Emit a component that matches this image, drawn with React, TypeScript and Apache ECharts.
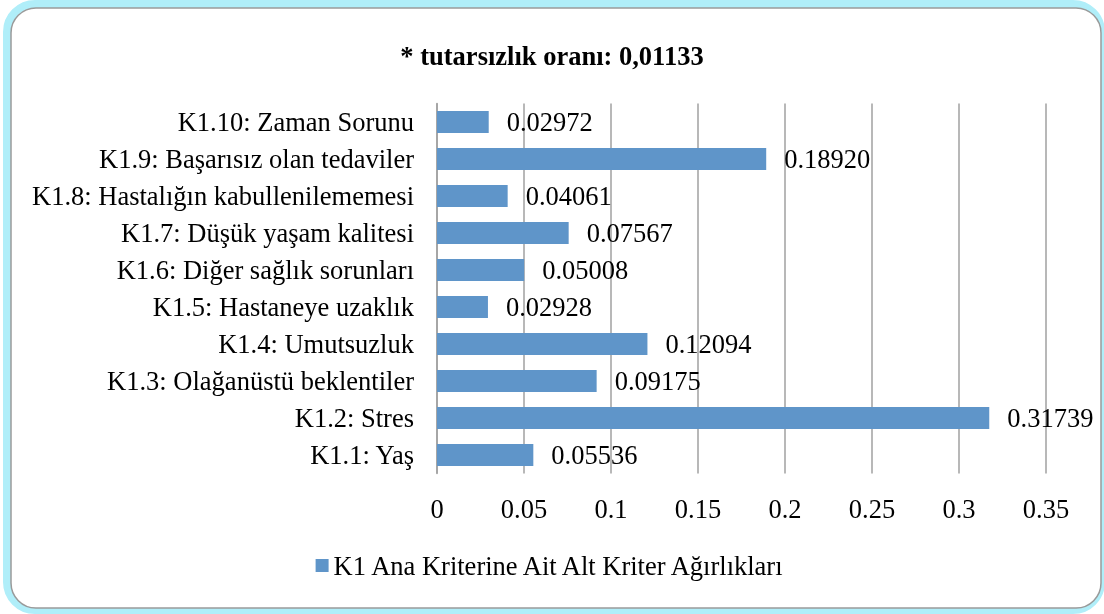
import React, { useEffect, useRef } from "react";
import * as echarts from "echarts";

const categories = [
  "K1.1: Yaş",
  "K1.2: Stres",
  "K1.3: Olağanüstü beklentiler",
  "K1.4: Umutsuzluk",
  "K1.5: Hastaneye uzaklık",
  "K1.6: Diğer sağlık sorunları",
  "K1.7: Düşük yaşam kalitesi",
  "K1.8: Hastalığın kabullenilememesi",
  "K1.9: Başarısız olan tedaviler",
  "K1.10: Zaman Sorunu",
];
const values = [0.05536, 0.31739, 0.09175, 0.12094, 0.02928, 0.05008, 0.07567, 0.04061, 0.1892, 0.02972];
const seriesName = "K1 Ana Kriterine Ait Alt Kriter Ağırlıkları";
const titleText = "* tutarsızlık oranı: 0,01133";

const FONT = "'Liberation Serif', 'Times New Roman', serif";

export default function App() {
  const ref = useRef<HTMLDivElement>(null);
  useEffect(() => {
    const chart = echarts.init(ref.current!, null, { renderer: "svg" });
    chart.setOption({
      animation: false,
      backgroundColor: "transparent",
      graphic: [
        {
          type: "rect",
          z: -10,
          silent: true,
          shape: { x: 7, y: 4, width: 1094, height: 606, r: 28 },
          style: { fill: "none", stroke: "#b0eef9", lineWidth: 8 },
        },
        {
          type: "rect",
          z: -9,
          silent: true,
          shape: { x: 11, y: 8, width: 1090, height: 600, r: 25 },
          style: { fill: "#ffffff", stroke: "#9a9a9a", lineWidth: 1.5 },
        },
      ],
      title: {
        text: titleText,
        left: "center",
        top: 37,
        textStyle: { fontFamily: FONT, fontSize: 26.5, fontWeight: "bold", color: "#000" },
      },
      legend: {
        bottom: 30,
        left: "center",
        itemWidth: 13,
        itemHeight: 13,
        itemGap: 8,
        icon: "rect",
        textStyle: { fontFamily: FONT, fontSize: 26.5, color: "#000" },
        data: [seriesName],
      },
      grid: { left: 437, right: 58, top: 103.5, bottom: 140.5, containLabel: false },
      xAxis: {
        type: "value",
        min: 0,
        max: 0.35,
        interval: 0.05,
        axisLine: { show: false },
        axisTick: { show: false },
        splitLine: { show: true, lineStyle: { color: "#a0a0a0", width: 1.5 } },
        axisLabel: { fontFamily: FONT, fontSize: 26.5, color: "#000", margin: 22 },
      },
      yAxis: {
        type: "category",
        data: categories,
        axisLine: { show: true, lineStyle: { color: "#a0a0a0", width: 1.5 } },
        axisTick: { show: false },
        axisLabel: { fontFamily: FONT, fontSize: 26.5, color: "#000", margin: 23 },
      },
      series: [
        {
          name: seriesName,
          type: "bar",
          data: values,
          barCategoryGap: "40%",
          itemStyle: { color: "#5f95c9" },
          label: {
            show: true,
            position: "right",
            distance: 18,
            fontFamily: FONT,
            fontSize: 26.5,
            color: "#000",
            formatter: (p: any) => Number(p.value).toFixed(5),
          },
        },
      ],
    });
    return () => chart.dispose();
  }, []);
  return (
    <div
      ref={ref}
      style={{ position: "fixed", left: 0, top: 0, width: 1104, height: 614 }}
    />
  );
}
